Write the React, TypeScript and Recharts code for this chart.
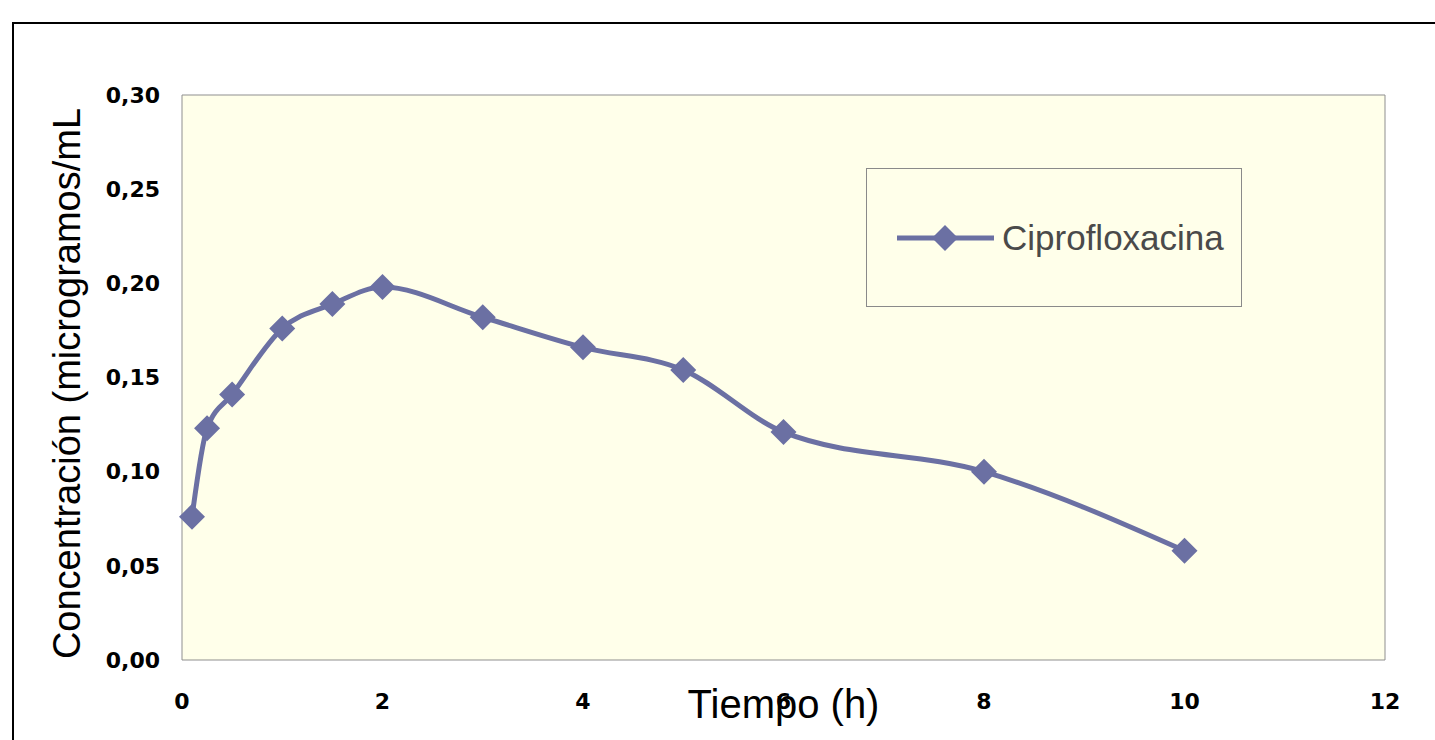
import React from 'react';
import { LineChart, Line, XAxis, YAxis, ReferenceArea, Legend } from 'recharts';

const tiempos = [0.1, 0.25, 0.5, 1, 1.5, 2, 3, 4, 5, 6, 8, 10];
const concentraciones = [0.076, 0.123, 0.141, 0.176, 0.189, 0.198, 0.182, 0.166, 0.154, 0.121, 0.1, 0.058];
const xTicks = [0, 2, 4, 6, 8, 10, 12];
const yTicks = [0, 0.05, 0.1, 0.15, 0.2, 0.25, 0.3];
const serieNombre = 'Ciprofloxacina';

const data = tiempos.map((t, i) => ({ t, c: concentraciones[i] }));

const COLOR = '#6B70A3';
const FONT = '"Liberation Sans", Arial, sans-serif';
const TICK_FONT = '"DejaVu Sans", "Liberation Sans", sans-serif';

const Diamond = (props: any) => {
  const { cx, cy } = props;
  if (cx == null || cy == null) return null;
  const r = 13;
  return (
    <path
      d={`M${cx},${cy - r} L${cx + r},${cy} L${cx},${cy + r} L${cx - r},${cy} Z`}
      fill={COLOR}
      stroke="none"
    />
  );
};

const LegendBox = () => (
  <div
    style={{
      width: 376,
      height: 139,
      boxSizing: 'border-box',
      border: '1px solid #8a8a8a',
      background: '#FFFFEA',
      display: 'flex',
      alignItems: 'center',
      paddingLeft: 30,
    }}
  >
    <svg width={97} height={30} style={{ display: 'block' }}>
      <line x1={0} y1={15} x2={97} y2={15} stroke={COLOR} strokeWidth={5} />
      <path d="M48,2 L61,15 L48,28 L35,15 Z" fill={COLOR} />
    </svg>
    <span style={{ fontFamily: FONT, fontSize: 35, color: '#4a4a4a', marginLeft: 8, lineHeight: 1 }}>
      {serieNombre}
    </span>
  </div>
);

const fmt = (v: number) => v.toFixed(2).replace('.', ',');

export default function App() {
  return (
    <div style={{ position: 'absolute', left: 0, top: 0, width: 1435, height: 740, background: '#fff', overflow: 'hidden' }}>
      <div
        style={{
          position: 'absolute',
          left: 12,
          top: 22,
          width: 1500,
          height: 800,
          border: '2px solid #000',
          boxSizing: 'border-box',
        }}
      />
      <LineChart
        width={1435}
        height={740}
        data={data}
        margin={{ top: 95, right: 50, bottom: 0, left: 0 }}
        style={{ position: 'absolute', left: 0, top: 0 }}
      >
        <ReferenceArea x1={0} x2={12} y1={0} y2={0.3} fill="#FFFFEA" fillOpacity={1} stroke="#8f8f8f" strokeWidth={1} />
        <XAxis
          type="number"
          dataKey="t"
          domain={[0, 12]}
          ticks={xTicks}
          height={80}
          axisLine={false}
          tickLine={false}
          tickSize={0}
          tickMargin={33}
          interval={0}
          tick={{ fill: '#000', fontSize: 22, fontWeight: 'bold', fontFamily: TICK_FONT }}
          label={{
            value: 'Tiempo (h)',
            position: 'insideBottom',
            offset: 22,
            style: { fill: '#000', fontSize: 40, fontFamily: FONT },
          }}
        />
        <YAxis
          type="number"
          domain={[0, 0.3]}
          ticks={yTicks}
          width={182}
          axisLine={false}
          tickLine={false}
          tickSize={0}
          tickMargin={22}
          interval={0}
          tickFormatter={fmt}
          tick={{ fill: '#000', fontSize: 22, fontWeight: 'bold', fontFamily: TICK_FONT }}
          label={{
            value: 'Concentración (microgramos/mL',
            angle: -90,
            position: 'center',
            dx: -24,
            dy: 6,
            style: { fill: '#000', fontSize: 38, fontFamily: FONT, textAnchor: 'middle' },
          }}
        />
        <Legend
          layout="horizontal"
          verticalAlign="middle"
          align="center"
          wrapperStyle={{ position: 'absolute', left: 866, top: 168, width: 376, height: 139 }}
          content={() => <LegendBox />}
        />
        <Line
          type="monotone"
          dataKey="c"
          name={serieNombre}
          stroke={COLOR}
          strokeWidth={5}
          dot={<Diamond />}
          activeDot={false}
          isAnimationActive={false}
        />
      </LineChart>
    </div>
  );
}
